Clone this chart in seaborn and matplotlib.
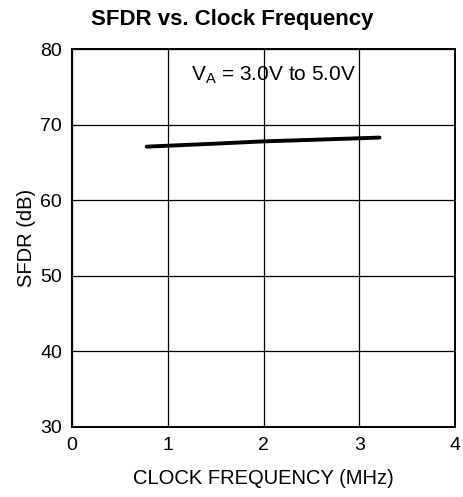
import matplotlib
matplotlib.use("Agg")
import matplotlib.pyplot as plt
import seaborn as sns
import pandas as pd

# Data
clock_mhz = [0.78, 1.5, 2.0, 2.5, 3.21]
sfdr_db = [67.1, 67.5, 67.8, 68.0, 68.3]
x_ticks = [0, 1, 2, 3, 4]
y_ticks = [30, 40, 50, 60, 70, 80]

df = pd.DataFrame({"clock": clock_mhz, "sfdr": sfdr_db})

sns.set_style("white")
plt.rcParams["font.family"] = ["Liberation Sans", "DejaVu Sans"]
plt.rcParams["text.color"] = "black"
plt.rcParams["axes.labelcolor"] = "black"

fig = plt.figure(figsize=(4.64, 4.97), dpi=100)
ax = fig.add_axes([0.155, 0.141, 0.826, 0.760])

sns.lineplot(data=df, x="clock", y="sfdr", color="black", linewidth=2.8, ax=ax)

ax.set_xlim(0, 4)
ax.set_ylim(30, 80)
ax.set_xticks(x_ticks)
ax.set_yticks(y_ticks)
ax.tick_params(axis="both", labelsize=14, length=0, pad=7, colors="black")
ax.grid(True, color="black", linewidth=0.9)
for s in ax.spines.values():
    s.set_color("black")
    s.set_linewidth(1.4)

ax.set_xlabel("CLOCK FREQUENCY (MHz)", fontsize=14.5, labelpad=11)
ax.set_ylabel("SFDR (dB)", fontsize=14.5, labelpad=3)

ax.text(2.1, 76.6, "V$_\\mathregular{A}$ = 3.0V to 5.0V", fontsize=15,
        ha="center", va="center")

fig.suptitle("SFDR vs. Clock Frequency", fontsize=16, fontweight="bold",
             x=0.5, y=0.982)

fig.savefig("out.png", dpi=100)
